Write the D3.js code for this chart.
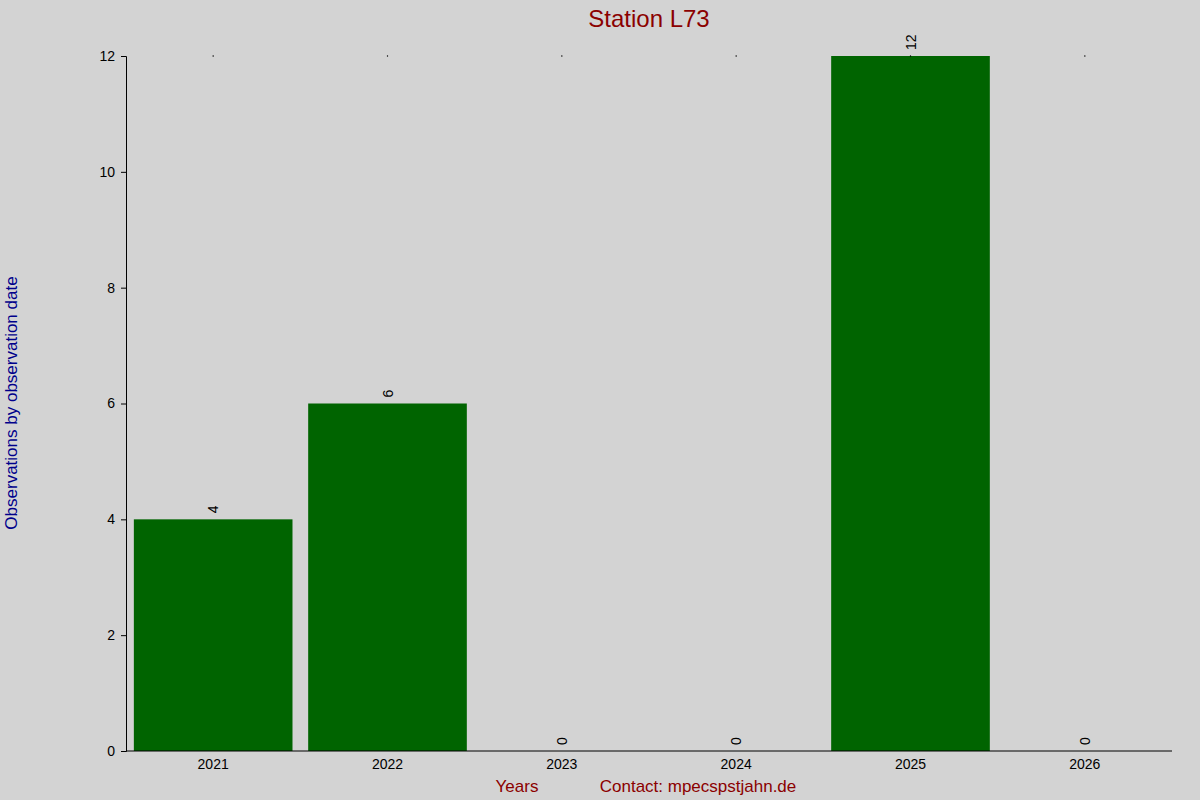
<!DOCTYPE html>
<html><head><meta charset="utf-8">
<script src="https://cdn.jsdelivr.net/npm/d3@7"></script>
<style>body{margin:0;background:#d3d3d3}svg{font-family:Arial,"Liberation Sans",sans-serif}</style>
</head><body>
<script>
const years = ["2021","2022","2023","2024","2025","2026"];
const counts = [4,6,0,0,12,0];
const yTicks = [0,2,4,6,8,10,12];

const W=1200,H=800, L=126,R=1172,T=56,B=751;
const svg=d3.select("body").append("svg").attr("width",W).attr("height",H);
svg.append("rect").attr("width",W).attr("height",H).attr("fill","#d3d3d3");
const x=d3.scaleBand().domain(years).range([L,R]).paddingInner(0.09).paddingOuter(0.045);
const y=d3.scaleLinear().domain([0,12]).range([B,T]);

svg.selectAll("rect.bar").data(years).join("rect").attr("class","bar")
 .attr("x",d=>x(d)).attr("width",x.bandwidth())
 .attr("y",(d,i)=>y(counts[i])).attr("height",(d,i)=>B-y(counts[i]))
 .attr("fill","#006400");

const ya=svg.append("g").attr("transform",`translate(${L},0)`)
 .call(d3.axisLeft(y).tickValues(yTicks).tickSize(5).tickPadding(6));
ya.select(".domain").attr("stroke","#000");
ya.selectAll("text").attr("font-size",14).attr("fill","#000");
svg.append("line").attr("x1",L).attr("x2",R).attr("y1",B).attr("y2",B).attr("stroke","#000");

svg.selectAll("text.xl").data(years).join("text").attr("class","xl")
 .attr("x",d=>x(d)+x.bandwidth()/2).attr("y",769).attr("text-anchor","middle")
 .attr("font-size",14).text(d=>d);

svg.selectAll("circle.dot").data(years).join("circle").attr("class","dot")
 .attr("cx",d=>x(d)+x.bandwidth()/2).attr("cy",T).attr("r",0.7).attr("fill","#000");

svg.selectAll("text.val").data(years).join("text").attr("class","val")
 .attr("transform",(d,i)=>`translate(${x(d)+x.bandwidth()/2+5},${y(counts[i])-6}) rotate(-90)`)
 .attr("font-size",14).text((d,i)=>counts[i]);

svg.append("text").attr("x",649).attr("y",27).attr("text-anchor","middle")
 .attr("font-size",24).attr("fill","#8b0000").text("Station L73");
svg.append("text").attr("transform","translate(17,403) rotate(-90)").attr("text-anchor","middle")
 .attr("font-size",17).attr("fill","#00008b").text("Observations by observation date");
svg.append("text").attr("x",517).attr("y",792).attr("text-anchor","middle")
 .attr("font-size",17).attr("fill","#8b0000").text("Years");
svg.append("text").attr("x",698).attr("y",792).attr("text-anchor","middle")
 .attr("font-size",17).attr("fill","#8b0000").text("Contact: mpecspstjahn.de");
</script></body></html>
